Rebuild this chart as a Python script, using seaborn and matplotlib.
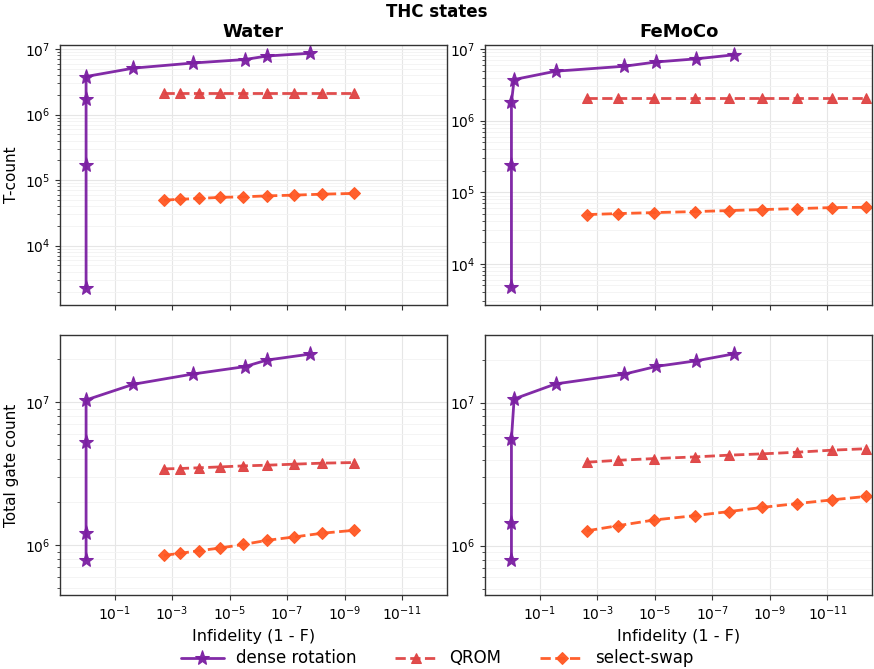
import numpy as np
import pandas as pd
import matplotlib
matplotlib.use("Agg")
import matplotlib.pyplot as plt
import seaborn as sns
from matplotlib.ticker import LogLocator, NullFormatter, NullLocator

# ---------------- data ----------------
water_dense_x = [0.98, 0.98, 0.98, 0.98, 2.2e-2, 1.9e-4, 3.0e-6, 5.0e-7, 1.6e-8]
water_dense_t = [2.24e3, 1.7e5, 1.75e6, 3.8e6, 5.1e6, 6.1e6, 6.9e6, 7.8e6, 8.6e6]
water_dense_total = [7.9e5, 1.22e6, 5.25e6, 1.04e7, 1.34e7, 1.58e7, 1.78e7, 1.98e7, 2.18e7]

water_qrom_x = [1.9e-3, 5.4e-4, 1.2e-4, 2.2e-5, 3.3e-6, 4.9e-7, 5.6e-8, 6.2e-9, 4.6e-10]
water_qrom_t = [2.1e6, 2.1e6, 2.1e6, 2.1e6, 2.1e6, 2.1e6, 2.1e6, 2.1e6, 2.1e6]
water_qrom_total = [3.42e6, 3.44e6, 3.48e6, 3.53e6, 3.59e6, 3.63e6, 3.69e6, 3.75e6, 3.79e6]

water_ss_x = [1.9e-3, 5.4e-4, 1.2e-4, 2.2e-5, 3.3e-6, 4.9e-7, 5.6e-8, 6.2e-9, 4.6e-10]
water_ss_t = [4.95e4, 5.1e4, 5.25e4, 5.45e4, 5.56e4, 5.75e4, 5.9e4, 6.1e4, 6.27e4]
water_ss_total = [8.47e5, 8.75e5, 9.12e5, 9.53e5, 1.01e6, 1.08e6, 1.14e6, 1.21e6, 1.27e6]

femoco_dense_x = [0.98, 0.98, 0.98, 0.79, 2.86e-2, 1.17e-4, 8.9e-6, 3.6e-7, 1.8e-8]
femoco_dense_t = [4.7e3, 2.44e5, 1.8e6, 3.75e6, 4.9e6, 5.75e6, 6.6e6, 7.3e6, 8.3e6]
femoco_dense_total = [8.0e5, 1.45e6, 5.57e6, 1.06e7, 1.35e7, 1.58e7, 1.79e7, 1.96e7, 2.19e7]

femoco_qrom_x = [2.3e-3, 1.9e-4, 1.1e-5, 4.2e-7, 2.7e-8, 1.9e-9, 1.1e-10, 6.8e-12, 4.4e-13]
femoco_qrom_t = [2.05e6, 2.05e6, 2.05e6, 2.05e6, 2.05e6, 2.05e6, 2.05e6, 2.05e6, 2.05e6]
femoco_qrom_total = [3.83e6, 3.95e6, 4.06e6, 4.17e6, 4.29e6, 4.38e6, 4.50e6, 4.65e6, 4.76e6]

femoco_ss_x = [2.3e-3, 1.9e-4, 1.1e-5, 4.2e-7, 2.7e-8, 1.9e-9, 1.1e-10, 6.8e-12, 4.4e-13]
femoco_ss_t = [4.88e4, 5.04e4, 5.2e4, 5.37e4, 5.55e4, 5.73e4, 5.92e4, 6.11e4, 6.17e4]
femoco_ss_total = [1.27e6, 1.38e6, 1.51e6, 1.62e6, 1.73e6, 1.85e6, 1.97e6, 2.09e6, 2.21e6]

systems = ["Water", "FeMoCo"]
methods = ["dense rotation", "QROM", "select-swap"]
row_labels = ["T-count", "Total gate count"]

data = {
    ("Water", "dense rotation"): (water_dense_x, water_dense_t, water_dense_total),
    ("Water", "QROM"): (water_qrom_x, water_qrom_t, water_qrom_total),
    ("Water", "select-swap"): (water_ss_x, water_ss_t, water_ss_total),
    ("FeMoCo", "dense rotation"): (femoco_dense_x, femoco_dense_t, femoco_dense_total),
    ("FeMoCo", "QROM"): (femoco_qrom_x, femoco_qrom_t, femoco_qrom_total),
    ("FeMoCo", "select-swap"): (femoco_ss_x, femoco_ss_t, femoco_ss_total),
}

styles = {
    "dense rotation": dict(color="#7B1FA2", marker="*", linestyle="-", markersize=11),
    "QROM": dict(color="#DF4343", marker="^", linestyle="--", markersize=6.5),
    "select-swap": dict(color="#FF5722", marker="D", linestyle="--", markersize=6),
}

ylims = {
    ("Water", 0): (10**3.10, 10**7.06),
    ("FeMoCo", 0): (10**3.43, 10**7.056),
    ("Water", 1): (10**5.65, 10**7.47),
    ("FeMoCo", 1): (10**5.655, 10**7.47),
}

# ---------------- plot ----------------
sns.set_style("ticks")
plt.rcParams["font.family"] = ["DejaVu Sans"]
plt.rcParams.update({
    "text.color": "black", "axes.labelcolor": "black",
    "xtick.color": "#333333", "ytick.color": "#333333",
    "xtick.labelcolor": "black", "ytick.labelcolor": "black",
    "xtick.major.pad": 3.5, "ytick.major.pad": 3.5,
    "axes.labelpad": 4.0,
})

fig, axes = plt.subplots(2, 2, figsize=(8.74, 6.69), dpi=100, sharex=True)
fig.subplots_adjust(left=0.0686, right=0.9977, top=0.9327, bottom=0.1106,
                    wspace=0.10, hspace=0.118)

for ci, sys_name in enumerate(systems):
    for ri in range(2):
        ax = axes[ri, ci]
        for m in methods:
            x, t, tot = data[(sys_name, m)]
            y = t if ri == 0 else tot
            st = styles[m]
            sns.lineplot(x=x, y=y, ax=ax, estimator=None, sort=False,
                         color=st["color"], marker=st["marker"],
                         linestyle=st["linestyle"], markersize=st["markersize"],
                         markeredgecolor=st["color"], linewidth=2.0,
                         label=m, alpha=0.95)
        leg = ax.get_legend()
        if leg is not None:
            leg.remove()
        ax.set_xscale("log")
        ax.set_yscale("log")
        ax.set_xlim(10**0.9, 10**-12.55)
        ax.set_ylim(*ylims[(sys_name, ri)])
        ax.set_xticks([1e-1, 1e-3, 1e-5, 1e-7, 1e-9, 1e-11])
        ax.xaxis.set_minor_locator(NullLocator())
        ax.yaxis.set_minor_locator(LogLocator(base=10, subs=np.arange(2, 10)))
        ax.yaxis.set_minor_formatter(NullFormatter())
        ax.grid(True, which="major", color="#e6e6e6", linewidth=0.8)
        ax.grid(True, which="minor", axis="y", color="#f3f3f3", linewidth=0.6)
        for sp in ax.spines.values():
            sp.set_color("#333333")
            sp.set_linewidth(1.0)
        ax.tick_params(axis="both", which="major", labelsize=10, length=3.5,
                       direction="out")
        ax.tick_params(axis="y", which="minor", length=2)
        ax.set_xlabel("")
        ax.set_ylabel("")
        if ri == 0:
            ax.set_title(sys_name, fontsize=13, fontweight="bold", pad=6)
        if ri == 1:
            ax.set_xlabel("Infidelity (1 - F)", fontsize=11.5)
        if ci == 0:
            ax.set_ylabel(row_labels[ri], fontsize=11)

fig.suptitle("THC states", fontsize=12, fontweight="bold", y=0.995)

handles, labels = axes[0, 0].get_legend_handles_labels()
fig.legend(handles, labels, loc="lower center", ncol=3, frameon=False,
           fontsize=12, bbox_to_anchor=(0.5, -0.02), columnspacing=2.3,
           handlelength=2.6, handletextpad=0.7)

fig.savefig("out.png", dpi=100)
